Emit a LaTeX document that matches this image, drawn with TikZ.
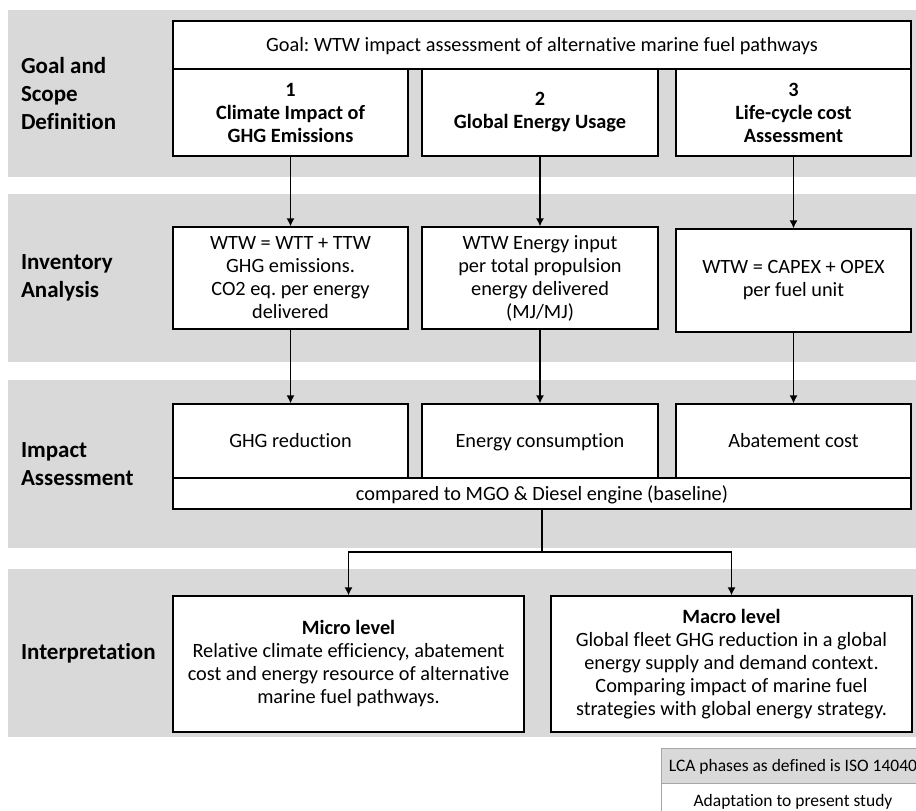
\documentclass[tikz,border=0pt]{standalone}
\usepackage{fontspec}
\setmainfont{Carlito}[Ligatures=NoCommon]
\usetikzlibrary{positioning,arrows.meta}
\definecolor{bandgray}{HTML}{D9D9D9}
\definecolor{rulegray}{HTML}{A6A6A6}
\frenchspacing
\tikzset{
    band/.style = {
        fill=bandgray,
        draw=none,
        shape=rectangle,
        minimum width=908pt,
        minimum height=168pt,
        inner sep=0pt
    },
    phase/.style = {
        anchor=west,
        align=left,
        inner sep=0pt,
        font=\fontsize{23}{28}\selectfont\bfseries
    },
    block/.style = {
        draw,
        fill=white,
        shape=rectangle,
        line width=1.3pt,
        align=center,
        inner sep=0pt,
        font=\fontsize{20.3}{23}\selectfont
    },
    oneline/.style = {
        block,
        text height=13pt,
        text depth=0pt
    },
    title/.style = {
        block,
        font=\fontsize{20.3}{23}\selectfont\bfseries
    },
    legend/.style = {
        draw=rulegray,
        shape=rectangle,
        line width=0.7pt,
        minimum width=264pt,
        minimum height=35pt,
        inner sep=0pt,
        text height=11pt,
        text depth=0pt,
        font=\fontsize{17.5}{21}\selectfont
    },
    >={Latex[length=8pt,width=8pt]},
}

\begin{document}
\begin{tikzpicture}[x=1pt, y=-1pt, line width=1.3pt]
            \useasboundingbox (0,0) rectangle (916,811);

            % phase bands
            \node[band, minimum height=167pt] (band1) at (462,93.5) {};
            \node[band] (band2) at (462,278) {};
            \node[band] (band3) at (462,464) {};
            \node[band] (band4) at (462,653) {};

            \node[phase] (goalscope) at ([xshift=13pt]band1.west) {Goal and\\Scope\\Definition};
            \node[phase] (inventory) at ([xshift=13pt]band2.west) {Inventory\\Analysis};
            \node[phase] (impact) at ([xshift=13pt]band3.west) {Impact\\Assessment};
            \node[phase] (interpret) at ([xshift=13pt]band4.west) {Interpretation};

            % goal and scope
            \node[oneline, minimum width=738pt, minimum height=48pt] (goal) at (542,45)
            {Goal: WTW impact assessment of alternative marine fuel pathways};
            \node[title, minimum width=235pt, minimum height=87pt] (climate) at (290.5,112.5)
            {1\\Climate Impact of\\GHG Emissions};
            \node[title, minimum width=236pt, minimum height=87pt] (energy) at (540,112.5)
            {2\\Global Energy Usage};
            \node[title, minimum width=235pt, minimum height=87pt] (cost) at (793.5,112.5)
            {3\\Life-cycle cost\\Assessment};

            % inventory
            \node[block, minimum width=235pt, minimum height=102pt] (ghginv) at (290.5,278)
            {WTW = WTT + TTW\\GHG emissions.\\CO2 eq. per energy\\delivered};
            \node[block, minimum width=236pt, minimum height=102pt] (energyinv) at (540,278)
            {WTW Energy input\\per total propulsion\\energy delivered\\(MJ/MJ)};
            \node[block, minimum width=235pt, minimum height=103pt] (costinv) at (793.5,280.5)
            {WTW = CAPEX + OPEX\\per fuel unit};

            % impact
            \node[oneline, minimum width=235pt, minimum height=74pt] (ghgred) at (290.5,441) {GHG reduction};
            \node[oneline, minimum width=236pt, minimum height=74pt] (encons) at (540,441) {Energy consumption};
            \node[oneline, minimum width=235pt, minimum height=74pt] (abate) at (793.5,441) {Abatement cost};
            \node[oneline, minimum width=738pt, minimum height=31pt] (baseline) at (542,493.5)
            {compared to MGO \& Diesel engine (baseline)};

            % interpretation
            \node[block, minimum width=351pt, minimum height=136pt] (micro) at (348.5,664)
            {\textbf{Micro level}\\Relative climate efficiency, abatement\\cost and energy resource of alternative\\marine fuel pathways.};
            \node[block, minimum width=361pt, minimum height=136pt] (macro) at (731.5,664)
            {\textbf{Macro level}\\Global fleet GHG reduction in a global\\energy supply and demand context.\\Comparing impact of marine fuel\\strategies with global energy strategy.};

            \path[draw, ->] (climate) -- (ghginv);
            \path[draw, ->] (energy) -- (energyinv);
            \path[draw, ->] (cost) -- (costinv);
            \path[draw, ->] (ghginv) -- (ghgred);
            \path[draw, ->] (energyinv) -- (encons);
            \path[draw, ->] (costinv) -- (abate);

            \coordinate (split) at (542,552);
            \path[draw, -] (baseline) -- (split);
            \path[draw, ->] (split) -| (micro);
            \path[draw, ->] (split) -| (macro);

            % legend
            \node[legend, fill=bandgray] (lcaphases) at (793,765.5) {LCA phases as defined is ISO 14040};
            \node[legend, fill=white] (present) at (793,800.5) {Adaptation to present study};
\end{tikzpicture}
\end{document}
